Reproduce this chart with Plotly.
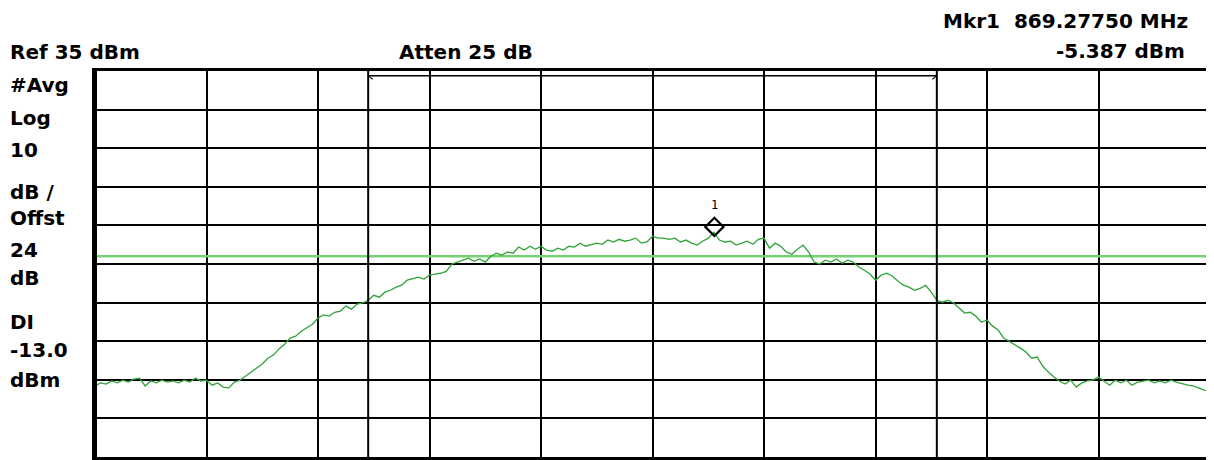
import plotly.graph_objects as go

# ---- data -----------------------------------------------------------------
ref_level_dbm = 35.0
db_per_div = 10.0
n_divs = 10
start_freq_mhz = 866.5
stop_freq_mhz = 871.5
freq_step_mhz = 0.025          # sweep point spacing (201 points)
display_line_dbm = -13.0
marker_freq_mhz = 869.2775
marker_level_dbm = -5.387
channel_start_mhz = 867.725
channel_stop_mhz = 870.275

trace_dbm = [
    -46.6, -45.8, -46.1, -45.3, -45.8, -45.1, -45.6, -44.8, -44.6, -46.6,
    -45.3, -45.8, -45.1, -45.6, -45.3, -45.8, -45.1, -45.6, -44.6, -45.3,
    -45.1, -46.4, -45.8, -46.9, -47.1, -45.6, -45.1, -44.0, -43.0, -42.0,
    -40.9, -39.4, -38.6, -37.0, -35.8, -34.2, -33.7, -32.4, -31.4, -30.6,
    -29.0, -28.2, -28.5, -27.5, -27.2, -25.9, -26.7, -25.4, -25.1, -24.4,
    -23.1, -23.6, -22.3, -21.8, -21.0, -20.5, -19.2, -18.7, -18.4, -18.9,
    -17.9, -17.6, -17.4, -16.9, -15.0, -14.5, -14.0, -13.5, -14.3, -13.7,
    -14.5, -13.0, -12.2, -12.7, -11.9, -12.2, -10.6, -11.4, -10.4, -11.2,
    -10.4, -11.4, -11.7, -10.9, -11.4, -10.4, -10.6, -9.6, -10.4, -9.9,
    -9.6, -9.9, -8.8, -9.3, -8.6, -9.1, -8.8, -8.3, -9.6, -9.3,
    -7.8, -8.3, -8.3, -8.6, -8.3, -9.3, -8.8, -9.6, -10.1, -9.1,
    -8.3, -6.8, -8.8, -9.3, -9.1, -10.1, -9.6, -9.1, -9.9, -8.6,
    -8.3, -10.9, -9.6, -10.4, -11.9, -12.5, -11.2, -10.1, -11.9, -14.5,
    -15.0, -14.0, -14.5, -13.7, -14.8, -14.0, -14.5, -15.8, -16.6, -17.6,
    -19.2, -17.9, -17.4, -18.1, -19.4, -20.5, -21.0, -21.8, -21.3, -20.5,
    -22.3, -24.4, -24.9, -24.4, -25.1, -26.4, -27.7, -27.5, -28.5, -30.1,
    -29.5, -31.1, -32.1, -34.2, -35.0, -35.8, -36.8, -37.8, -39.4, -39.1,
    -41.5, -43.0, -44.3, -45.3, -46.1, -45.1, -46.9, -45.8, -45.3, -45.1,
    -44.3, -45.3, -46.4, -45.1, -45.8, -45.1, -46.4, -45.6, -45.3, -45.1,
    -45.8, -45.3, -45.8, -45.1, -45.6, -46.1, -46.4, -46.6, -47.1, -47.7,
    -47.9,
]
trace_freq_mhz = [start_freq_mhz + i * freq_step_mhz for i in range(len(trace_dbm))]

left_labels = ["#Avg", "Log", "10", "dB /", "Offst", "24", "dB", "DI", "-13.0", "dBm"]
left_label_y_px = [85, 118, 150, 192, 218, 250, 278, 322, 350, 380]

# ---- figure ---------------------------------------------------------------
PAGE = 8                       # default page margin around the plot div
W, H = 1214 - PAGE, 460 - PAGE
ML, MR, MT, MB = 95 - PAGE, 1, 71 - PAGE, 3
bottom_dbm = ref_level_dbm - db_per_div * n_divs
FONT = "DejaVu Sans"

fig = go.Figure()

# display line
fig.add_trace(go.Scatter(
    x=[start_freq_mhz, stop_freq_mhz], y=[display_line_dbm, display_line_dbm],
    mode="lines", line=dict(color="#74d274", width=2.5), hoverinfo="skip"))

# spectrum trace
fig.add_trace(go.Scatter(
    x=trace_freq_mhz, y=trace_dbm, mode="lines",
    line=dict(color="#2ea336", width=1.3), hoverinfo="skip"))

# marker
fig.add_trace(go.Scatter(
    x=[marker_freq_mhz], y=[marker_level_dbm], mode="markers",
    marker=dict(symbol="diamond-open", size=14, color="black",
                line=dict(color="black", width=2.2)),
    hoverinfo="skip"))
fig.add_annotation(x=marker_freq_mhz, y=marker_level_dbm, xref="x", yref="y",
                   text="1", showarrow=False, yshift=22,
                   font=dict(family="DejaVu Sans Mono", size=12, color="black"))

# channel bracket vertical lines and top bar
bracket_dbm = ref_level_dbm - 1.2
for xv in (channel_start_mhz, channel_stop_mhz):
    fig.add_shape(type="line", xref="x", yref="y", x0=xv, x1=xv,
                  y0=bottom_dbm, y1=ref_level_dbm,
                  line=dict(color="black", width=2), layer="above")
fig.add_shape(type="line", xref="x", yref="y",
              x0=channel_start_mhz, x1=channel_stop_mhz,
              y0=bracket_dbm, y1=bracket_dbm,
              line=dict(color="black", width=1.5), layer="above")
# tiny arrow heads at bracket ends
fig.add_annotation(x=channel_start_mhz, y=bracket_dbm, ax=6, ay=5,
                   xref="x", yref="y", axref="pixel", ayref="pixel",
                   showarrow=True, arrowhead=0, arrowwidth=1.2,
                   arrowcolor="black", text="")
fig.add_annotation(x=channel_stop_mhz, y=bracket_dbm, ax=-6, ay=5,
                   xref="x", yref="y", axref="pixel", ayref="pixel",
                   showarrow=True, arrowhead=0, arrowwidth=1.2,
                   arrowcolor="black", text="")
# heavier left frame edge
fig.add_shape(type="line", xref="x", yref="y",
              x0=start_freq_mhz, x1=start_freq_mhz,
              y0=bottom_dbm, y1=ref_level_dbm,
              line=dict(color="black", width=4), layer="above")


# text placed by window pixel position
def add_canvas_text(txt, x_px, y_px, anchor="left"):
    pw = W - ML - MR
    ph = H - MT - MB
    fx = x_px - PAGE
    fy = y_px - PAGE
    fig.add_annotation(
        text=txt, x=(fx - ML) / pw, y=1 - (fy - MT) / ph,
        xref="paper", yref="paper", xanchor=anchor, yanchor="middle",
        showarrow=False,
        font=dict(family=FONT, size=20, color="black", weight="bold"))


add_canvas_text("Ref 35 dBm", 8, 52)
add_canvas_text("Atten 25 dB", 398, 52)
add_canvas_text("Mkr1  869.27750 MHz", 1193, 21, anchor="right")
add_canvas_text("-5.387 dBm", 1190, 51, anchor="right")
for lab, ypx in zip(left_labels, left_label_y_px):
    add_canvas_text(lab, 8, ypx)

fig.update_layout(
    width=W, height=H,
    margin=dict(l=ML, r=MR, t=MT, b=MB, pad=0),
    paper_bgcolor="white", plot_bgcolor="white",
    showlegend=False,
    xaxis=dict(range=[start_freq_mhz, stop_freq_mhz], dtick=0.5,
               tick0=start_freq_mhz, showgrid=True, gridcolor="black",
               gridwidth=2, showticklabels=False, ticks="", zeroline=False,
               showline=True, linecolor="black", linewidth=3, mirror=True,
               fixedrange=True),
    yaxis=dict(range=[bottom_dbm, ref_level_dbm], dtick=db_per_div,
               tick0=bottom_dbm, showgrid=True, gridcolor="black",
               gridwidth=2, showticklabels=False, ticks="", zeroline=False,
               showline=True, linecolor="black", linewidth=3, mirror=True,
               fixedrange=True),
)

fig.write_html("out.html")
